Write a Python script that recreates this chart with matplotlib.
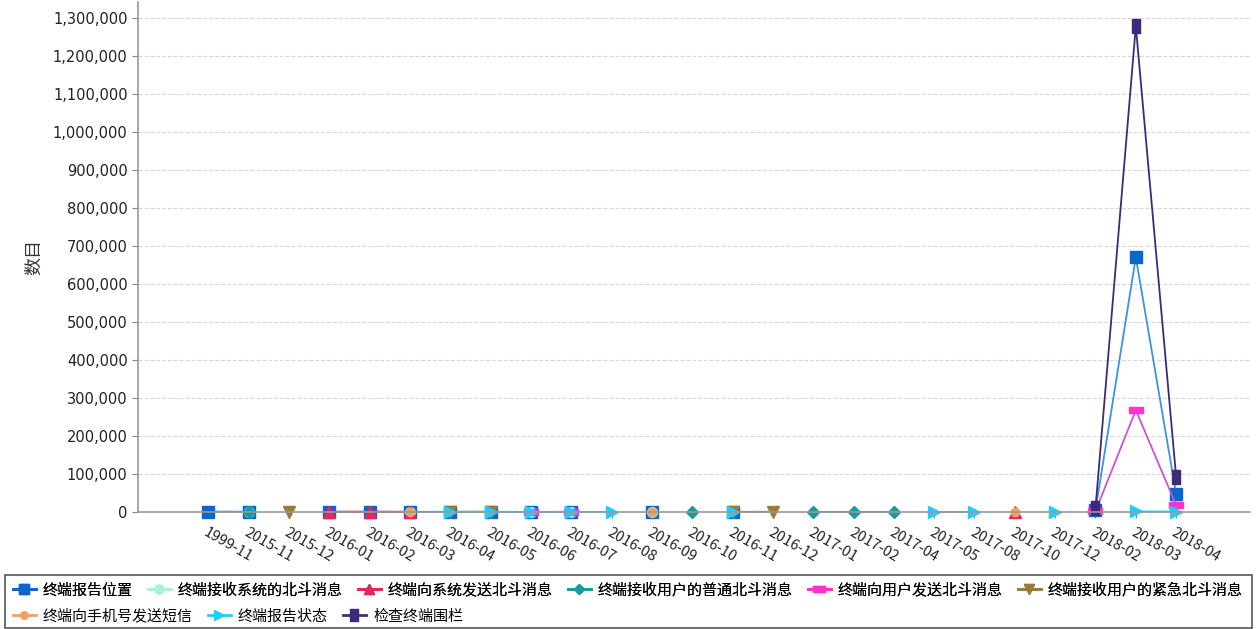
import numpy as np
import matplotlib
matplotlib.use('Agg')
import matplotlib.pyplot as plt
from matplotlib.patches import Rectangle
from matplotlib.lines import Line2D

plt.rcParams['font.family'] = ['Noto Sans CJK SC', 'DejaVu Sans']
plt.rcParams['axes.unicode_minus'] = False

N = None
months = ['1999-11', '2015-11', '2015-12', '2016-01', '2016-02', '2016-03', '2016-04',
          '2016-05', '2016-06', '2016-07', '2016-08', '2016-09', '2016-10', '2016-11',
          '2016-12', '2017-01', '2017-02', '2017-04', '2017-05', '2017-08', '2017-10',
          '2017-12', '2018-02', '2018-03', '2018-04']

names = ['终端报告位置', '终端接收系统的北斗消息', '终端向系统发送北斗消息', '终端接收用户的普通北斗消息',
         '终端向用户发送北斗消息', '终端接收用户的紧急北斗消息', '终端向手机号发送短信',
         '终端报告状态', '检查终端围栏']

report_pos = [1200, 800, N, 600, 900, 400, 700, 650, 300, 500, N, 300, N, 400,
              N, N, N, N, N, N, N, N, 5000, 670000, 47000]
recv_sys = [N, 500, N, N, N, 300, N, N, 200, 250, N, 200, N, N,
            N, N, N, N, N, N, N, N, N, N, N]
send_sys = [N, N, N, 700, 800, 500, N, N, N, N, N, N, N, N,
            N, N, N, N, N, N, 300, N, N, N, N]
recv_normal = [N, 600, N, N, N, N, N, N, N, N, N, N, 400, N,
               N, 300, 350, 300, N, N, N, N, N, N, N]
send_user = [N, N, N, N, N, N, N, N, 300, 300, N, N, N, N,
             N, N, N, N, N, N, N, N, 2000, 268000, 18000]
recv_urgent = [N, N, 900, N, N, N, 500, 600, N, N, N, N, N, 500,
               700, N, N, N, N, N, N, N, N, N, N]
send_sms = [N, N, N, N, N, 300, N, N, N, N, N, 250, N, N,
            N, N, N, N, N, N, 400, N, N, N, N]
report_state = [N, N, N, N, N, N, 300, 300, 400, 350, 300, N, N, 300,
                N, N, N, N, 200, 250, N, 300, N, 1500, 1200]
fence = [N, N, N, N, N, N, N, N, N, N, N, N, N, N,
         N, N, N, N, N, N, N, N, 10000, 1278000, 92000]

series = [report_pos, recv_sys, send_sys, recv_normal, send_user,
          recv_urgent, send_sms, report_state, fence]
colors = ['#0a66cc', '#a6f2d6', '#e8245a', '#1a9a9a', '#ff33cc',
          '#9a7b3a', '#f5a060', '#22ccff', '#3d2a7a']
hrect = [(-1, -0.5), (1, -0.5), (1, 0.5), (-1, 0.5), (-1, -0.5)]
vrect = [(-0.6, -1), (0.6, -1), (0.6, 1), (-0.6, 1), (-0.6, -1)]
markers = ['s', 'o', '^', 'D', hrect, 'v', 'o', '>', vrect]
msizes = [8, 7, 8, 6, 10, 8, 6, 8, 10]

fig = plt.figure(figsize=(12.57, 6.29), dpi=100)
ax = fig.add_axes([0.1098, 0.186, 0.8846, 0.811])
x = np.arange(len(months))

handles = []
for vals, c, m, ms, name in zip(series, colors, markers, msizes, names):
    y = np.array([np.nan if v is None else v for v in vals], dtype=float)
    lc = '#3a95e0' if name == '终端报告位置' else ('#cc55cc' if name == '终端向用户发送北斗消息' else c)
    ax.plot(x, y, color=lc, lw=1.3, marker=m, markersize=ms,
            markerfacecolor=c, markeredgecolor=c, clip_on=False)
    handles.append(Line2D([], [], color=c, lw=2, marker=m, markersize=ms * 0.9,
                          markerfacecolor=c, markeredgecolor=c))

ax.set_xlim(-1.74, 25.83)
ax.set_ylim(0, 1342000)
ax.set_yticks(np.arange(0, 1300001, 100000))
ax.yaxis.set_major_formatter(matplotlib.ticker.FuncFormatter(lambda v, p: f'{int(v):,}'))
ax.set_xticks(x)
ax.set_xticklabels(months, rotation=-30, ha='left', va='top', rotation_mode='anchor')
ax.tick_params(axis='both', colors='#888888', labelcolor='#222222', labelsize=10.5, length=4)
ax.tick_params(axis='x', pad=6)
for lab in ax.get_yticklabels():
    lab.set_family('DejaVu Sans')
ax.grid(axis='y', color='#d8d8d8', ls='--', lw=0.8)
ax.set_axisbelow(True)
for s in ['top', 'right']:
    ax.spines[s].set_visible(False)
for s in ['left', 'bottom']:
    ax.spines[s].set_color('#999999')
    ax.spines[s].set_linewidth(1.2)
ax.set_ylabel('数目', fontsize=13, color='#333333', labelpad=7)

fig.patches.append(Rectangle((5 / 1257, 1 / 629), 1247 / 1257, 53 / 629, transform=fig.transFigure,
                             fill=False, edgecolor='#555555', lw=1.2))
kw = dict(loc='upper left', frameon=False, fontsize=10.8, handlelength=1.5,
          handletextpad=0.5, columnspacing=1.0, borderpad=0.2)
leg1 = fig.legend(handles[:6], names[:6], bbox_to_anchor=(0.002, 0.090), ncol=6, **kw)
leg2 = fig.legend(handles[6:], names[6:], bbox_to_anchor=(0.002, 0.049), ncol=3, **kw)
fig.add_artist(leg1)

plt.savefig('out.png', dpi=100)
plt.close()
